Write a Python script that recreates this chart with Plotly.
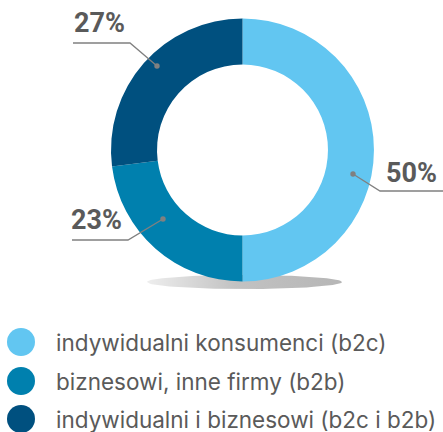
import math
import plotly.graph_objects as go

categories = ["indywidualni konsumenci (b2c)", "biznesowi, inne firmy (b2b)", "indywidualni i biznesowi (b2c i b2b)"]
values = [50, 23, 27]
pct_labels = ["50%", "23%", "27%"]
colors = ["#62C6F1", "#0080AE", "#00507F"]

W, H = 443, 432
cx, cy, R = 242.5, 150, 131.5
hole = 0.65
text_color = "#5a5a5a"
FONT = "Inter"

fig = go.Figure()

# shadow ellipse under donut (gradient)
sx, sy, srx, sry = 244.5, 282, 97.5, 7
ts = [i / 100 * 2 * math.pi for i in range(101)]
fig.add_trace(go.Scatter(
    x=[sx + srx * math.cos(t) for t in ts],
    y=[sy + sry * math.sin(t) for t in ts],
    mode="lines", line=dict(width=0), fill="toself",
    fillgradient=dict(type="horizontal",
                      colorscale=[[0, "#eeeeee"], [0.45, "#c2c2c2"], [1, "#b6b6b6"]]),
    hoverinfo="skip", showlegend=False))

# donut
fig.add_trace(go.Pie(
    labels=categories, values=values, sort=False, direction="clockwise",
    rotation=0, hole=hole, marker=dict(colors=colors, line=dict(width=0)),
    textinfo="none", showlegend=False,
    domain=dict(x=[(cx - R) / W, (cx + R) / W], y=[1 - (cy + R) / H, 1 - (cy - R) / H])))

# legend (manual, circles)
leg_y = [342, 381, 419]
fig.add_trace(go.Scatter(
    x=[21] * len(categories), y=leg_y, mode="markers",
    marker=dict(size=28, color=colors, line=dict(width=0)),
    hoverinfo="skip", showlegend=False))
annotations = []
for cat, yy in zip(categories, leg_y):
    annotations.append(dict(x=54, y=yy, xref="x", yref="y", text=cat, showarrow=False,
                            xanchor="left", yanchor="middle",
                            font=dict(family=FONT, size=22.5, color=text_color)))

# percent labels with leader lines
label_layout = [
    dict(tx=411, ty=173, dot=(353, 174), elbow=(380, 191), end=(443, 191)),
    dict(tx=96, ty=220, dot=(163, 219), elbow=(128, 240), end=(72, 240)),
    dict(tx=99, ty=23, dot=(157, 66), elbow=(130, 43), end=(73, 43)),
]
shapes = []
for lab, L in zip(pct_labels, label_layout):
    annotations.append(dict(x=L["tx"], y=L["ty"], xref="x", yref="y", text=lab, showarrow=False,
                            xanchor="center", yanchor="middle",
                            font=dict(family="Roboto", size=27, color=text_color, weight=700)))
    (x0, y0), (x1, y1), (x2, y2) = L["dot"], L["elbow"], L["end"]
    shapes.append(dict(type="path", xref="x", yref="y",
                       path=f"M{x0},{y0} L{x1},{y1} L{x2},{y2}",
                       line=dict(color="#808080", width=1.3)))
    shapes.append(dict(type="circle", xref="x", yref="y", x0=x0 - 2.7, x1=x0 + 2.7,
                       y0=y0 - 2.7, y1=y0 + 2.7, fillcolor="#808080", line=dict(width=0)))

fig.update_layout(
    width=W, height=H, margin=dict(l=0, r=0, t=0, b=0),
    paper_bgcolor="white", plot_bgcolor="white",
    xaxis=dict(range=[0, W], visible=False, fixedrange=True),
    yaxis=dict(range=[H, 0], visible=False, fixedrange=True),
    annotations=annotations, shapes=shapes, showlegend=False)

fig.write_html("out.html", config={"displayModeBar": False},
               post_script="document.body.style.margin='0';document.body.style.overflow='hidden';")
